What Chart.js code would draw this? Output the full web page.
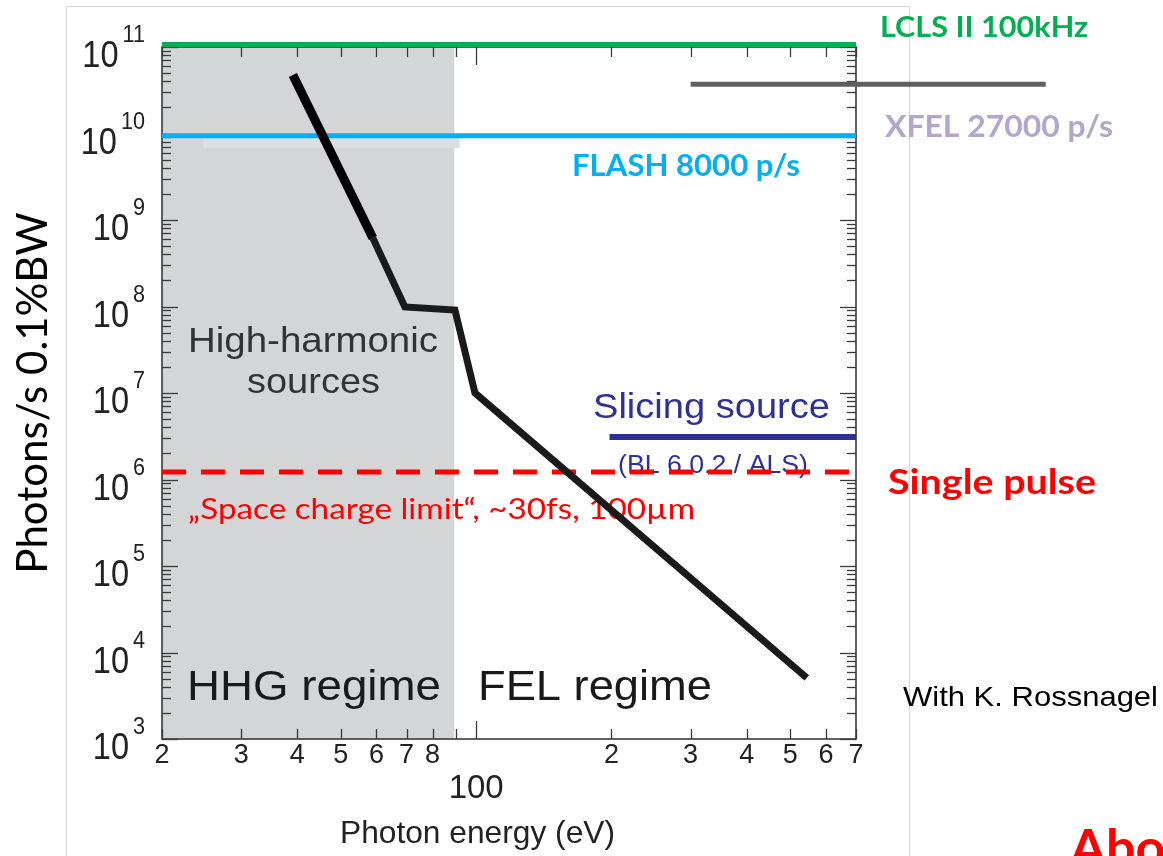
<!DOCTYPE html>
<html>
<head>
<meta charset="utf-8">
<script src="https://cdn.jsdelivr.net/npm/chart.js@4.4.1/dist/chart.umd.min.js"></script>
<style>
  html, body { margin: 0; padding: 0; background: #fff; }
  canvas { display: block; }
</style>
</head>
<body>
<canvas id="chart" width="1163" height="856"></canvas>
<script>
'use strict';

// ─── values ───────────────────────────────────────────────────
const X_TICKS   = [20, 30, 40, 50, 60, 70, 80, 90, 100, 200, 300, 400, 500, 600, 700];
const X_LABELS  = ['2', '3', '4', '5', '6', '7', '8', '', '100', '2', '3', '4', '5', '6', '7'];
const Y_DECADES = [3, 4, 5, 6, 7, 8, 9, 10, 11];
const Y_MINORS  = [2, 3, 4, 5, 6, 7, 8, 9];

// HHG / FEL brightness curve (eV, photons/s 0.1%BW)
const CURVE_HI_X = [39.1, 58.9];
const CURVE_HI_Y = [4.75e10, 6.2e8];
const CURVE_LO_X = [58.9, 69.4, 89.7, 99.4, 544];
const CURVE_LO_Y = [6.2e8, 9.9e7, 9.1e7, 1.0e7, 5.1e3];

// source levels
const LCLS_X  = [20, 700];   const LCLS_Y  = 1.07e11;
const XFEL_X  = [300, 1850]; const XFEL_Y  = 3.7e10;
const FLASH_X = [20, 700];   const FLASH_Y = 9.4e9;
const SLICE_X = [198, 700];  const SLICE_Y = 3.1e6;
const SPACE_X = [20, 700];   const SPACE_Y = 1.22e6;

// shaded HHG regime + light scan band
const HHG_X  = [20, 89.5];   const HHG_TOP = 1e11;
const BAND_X = [24.7, 92];   const BAND_Y  = [8.9e9, 6.8e9];

const SANS = "'Liberation Sans', Arial, sans-serif";
const CAL  = "Lato, 'Open Sans', sans-serif";

// text placed on the slide (left, baseline, size, fitted width)
const NOTES = [
  { t: 'LCLS II 100kHz',  x: 880, y: 37,  s: 29, w: 208, f: CAL,  b: true,  c: '#00b050' },
  { t: 'XFEL 27000 p/s',  x: 885, y: 137, s: 31, w: 228, f: CAL,  b: true,  c: '#b3a5cb' },
  { t: 'FLASH 8000 p/s',  x: 572, y: 176, s: 31, w: 228, f: CAL,  b: true,  c: '#00b0f0' },
  { t: 'Single pulse',    x: 888, y: 494, s: 34, w: 208, f: CAL,  b: true,  c: '#ff0000' },
  { t: '\u201ESpace charge limit\u201C, ~30fs, 100\u00B5m', x: 188, y: 519, s: 28, w: 507, f: CAL, b: false, c: '#ff0000' },
  { t: 'Slicing source',  x: 593, y: 418, s: 35, w: 237, f: SANS, b: false, c: '#2e3192' },
  { t: '(BL 6.0.2 / ALS)', x: 618, y: 473, s: 25, w: 190, f: SANS, b: false, c: '#2e3192' },
  { t: 'High-harmonic',   x: 188, y: 352, s: 35, w: 250, f: SANS, b: false, c: '#333333' },
  { t: 'sources',         x: 247, y: 393, s: 35, w: 133, f: SANS, b: false, c: '#333333' },
  { t: 'HHG regime',      x: 187, y: 700, s: 42, w: 254, f: SANS, b: false, c: '#1a1a1a' },
  { t: 'FEL regime',      x: 478, y: 700, s: 42, w: 234, f: SANS, b: false, c: '#1a1a1a' },
  { t: 'With K. Rossnagel', x: 903, y: 706, s: 28, w: 255, f: SANS, b: false, c: '#000000' },
  { t: 'Photon energy (eV)', x: 340, y: 843, s: 32, w: 275, f: SANS, b: false, c: '#222222' },
  { t: 'Above',           x: 1070, y: 866, s: 52, w: 0,  f: CAL,  b: true,  c: '#ff0000' },
];

const pts = (xs, ys) => xs.map((x, i) => ({ x, y: Array.isArray(ys) ? ys[i] : ys }));

function lineSet(xs, ys, color, width, extra) {
  return Object.assign({
    data: pts(xs, ys),
    borderColor: color,
    borderWidth: width,
    borderCapStyle: 'butt',
    borderJoinStyle: 'miter',
    pointRadius: 0,
    fill: false,
    clip: false,
  }, extra || {});
}

function fitText(ctx, n) {
  ctx.font = `${n.b ? 'bold ' : ''}${n.s}px ${n.f}`;
  ctx.fillStyle = n.c;
  ctx.textAlign = 'left';
  ctx.textBaseline = 'alphabetic';
  const w = ctx.measureText(n.t).width;
  ctx.save();
  ctx.translate(n.x, n.y);
  if (n.w) ctx.scale(n.w / w, 1);
  ctx.fillText(n.t, 0, 0);
  ctx.restore();
}

function seg(ctx, x1, y1, x2, y2) {
  ctx.beginPath();
  ctx.moveTo(x1, y1);
  ctx.lineTo(x2, y2);
  ctx.stroke();
}

// frame, inward ticks, 10^n labels, slide text
function drawFrame(chart) {
  const ctx = chart.ctx;
  const { left, right, top, bottom } = chart.chartArea;
  const xs = chart.scales.x, ys = chart.scales.y;
  ctx.save();
  ctx.strokeStyle = '#3a3a3a';
  ctx.lineWidth = 1.6;
  ctx.strokeRect(left, top, right - left, bottom - top);

  ctx.lineWidth = 1.3;
  xs.ticks.forEach(t => {
    const px = Math.round(xs.getPixelForValue(t.value)) + 0.5;
    const len = t.value === 100 ? 18 : 10;
    seg(ctx, px, bottom, px, bottom - len);
    seg(ctx, px, top, px, top + len);
  });
  ys.ticks.forEach(t => {
    const py = Math.round(ys.getPixelForValue(t.value)) + 0.5;
    const lg = Math.log10(t.value);
    const major = Math.abs(lg - Math.round(lg)) < 1e-9;
    const len = major ? 16 : 9;
    seg(ctx, left, py, left + len, py);
    seg(ctx, right, py, right - len, py);
  });

  ctx.fillStyle = '#222';
  ctx.textBaseline = 'alphabetic';
  ctx.textAlign = 'left';
  Y_DECADES.forEach(n => {
    const py = ys.getPixelForValue(Math.pow(10, n));
    const ex = String(n);
    ctx.font = `24px ${SANS}`;
    const ew = ctx.measureText(ex).width * 0.9;
    ctx.save();
    ctx.translate(145 - ew, py - 5);
    ctx.scale(0.9, 1);
    ctx.fillText(ex, 0, 0);
    ctx.restore();
    ctx.font = `37px ${SANS}`;
    const tw = ctx.measureText('10').width * 0.88;
    ctx.save();
    ctx.translate(145 - ew - 4 - tw, py + 20);
    ctx.scale(0.88, 1);
    ctx.fillText('10', 0, 0);
    ctx.restore();
  });

  NOTES.forEach(n => fitText(ctx, n));
  ctx.restore();
}

const figurePlugin = {
  id: 'figure',
  beforeDraw(chart) {
    const ctx = chart.ctx;
    ctx.save();
    ctx.strokeStyle = '#d6d6d6';
    ctx.lineWidth = 1;
    ctx.beginPath();
    ctx.moveTo(66.5, 900);
    ctx.lineTo(66.5, 6.5);
    ctx.lineTo(909.5, 6.5);
    ctx.lineTo(909.5, 900);
    ctx.stroke();
    ctx.restore();
  },
  afterDatasetDraw(chart, args) {
    if (args.index === 7) drawFrame(chart);
  },
};

Chart.defaults.font.family = SANS;
Chart.defaults.color = '#222';

new Chart(document.getElementById('chart').getContext('2d'), {
  type: 'line',
  data: {
    datasets: [
      lineSet(CURVE_HI_X, CURVE_HI_Y, '#000000', 9),
      lineSet(CURVE_LO_X, CURVE_LO_Y, '#1a1a1a', 7),
      lineSet(LCLS_X, LCLS_Y, '#00b050', 5),
      lineSet(XFEL_X, XFEL_Y, '#5f5f5f', 5),
      lineSet(FLASH_X, FLASH_Y, '#00b0f0', 5),
      lineSet(SLICE_X, SLICE_Y, '#2e3192', 6),
      lineSet(SPACE_X, SPACE_Y, '#ff0000', 5, { borderDash: [24, 15] }),
      {
        data: pts(BAND_X, BAND_Y[0]),
        fill: { value: BAND_Y[1] },
        backgroundColor: '#dddedf',
        borderColor: 'transparent',
        borderWidth: 0,
        pointRadius: 0,
      },
      {
        data: pts(HHG_X, HHG_TOP),
        fill: 'start',
        backgroundColor: '#d4d5d7',
        borderColor: 'transparent',
        borderWidth: 0,
        pointRadius: 0,
      },
    ],
  },
  options: {
    responsive: false,
    animation: false,
    devicePixelRatio: 1,
    layout: { padding: { left: 0, top: 47, right: 307, bottom: 0 } },
    plugins: { legend: { display: false }, tooltip: { enabled: false } },
    scales: {
      x: {
        type: 'logarithmic',
        min: 20,
        max: 700,
        afterBuildTicks: s => { s.ticks = X_TICKS.map(v => ({ value: v })); },
        afterFit: s => { s.height = 856 - 739; },
        grid: { display: false, drawTicks: false },
        border: { display: false },
        ticks: {
          autoSkip: false,
          maxRotation: 0,
          minRotation: 0,
          padding: 0,
          color: '#222',
          font: ctx => (ctx.tick && ctx.tick.value === 100)
            ? { size: 33, lineHeight: 1.0 }
            : { size: 27, lineHeight: 1.2 },
          callback: (v, i) => X_LABELS[i] === '100' ? ['', '100'] : X_LABELS[i],
        },
        title: { display: false },
      },
      y: {
        type: 'logarithmic',
        min: 1e3,
        max: 1e11,
        afterBuildTicks: s => {
          const ticks = [];
          Y_DECADES.forEach(n => {
            ticks.push({ value: Math.pow(10, n) });
            if (n < 11) Y_MINORS.forEach(m => ticks.push({ value: m * Math.pow(10, n) }));
          });
          s.ticks = ticks;
        },
        afterFit: s => { s.width = 162; },
        grid: { display: false, drawTicks: false },
        border: { display: false },
        ticks: { display: false },
        title: {
          display: true,
          text: 'Photons/s 0.1%BW',
          color: '#000',
          font: { family: CAL, size: 42 },
          padding: { top: 8, bottom: 0 },
        },
      },
    },
  },
  plugins: [figurePlugin],
});
</script>
</body>
</html>
